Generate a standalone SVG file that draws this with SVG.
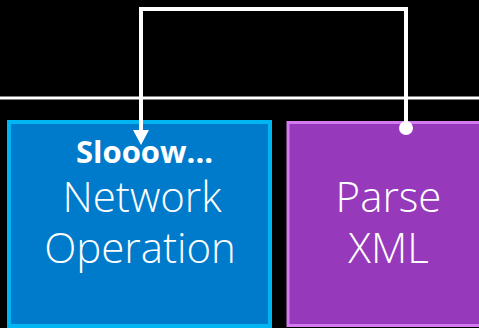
<svg xmlns="http://www.w3.org/2000/svg" width="479" height="328" viewBox="0 0 479 328">
<style>
.t{font-family:"Open Sans","Liberation Sans",sans-serif;fill:#fff;text-anchor:middle;font-size:42px;font-weight:300}
.b{font-weight:700;font-size:31px}
.c{fill:none;stroke:#fff;stroke-width:4}
</style>
<rect width="479" height="328" fill="#000"/>
<line x1="0" y1="98" x2="479" y2="98" stroke="#fff" stroke-width="3"/>
<g id="network">
<rect x="9" y="122" width="261" height="204" fill="#007BCB" stroke="#00B6F2" stroke-width="4"/>
<text class="t b" x="144.5" y="163">Slooow...</text>
<text class="t" x="142" y="212">Network</text>
<text class="t" x="140" y="263">Operation</text>
</g>
<g id="parse">
<rect x="288" y="122.5" width="195" height="203" fill="#9639BA" stroke="#D47BF2" stroke-width="3"/>
<text class="t" x="388.5" y="212">Parse</text>
<text class="t" x="388.5" y="263">XML</text>
</g>
<g id="connectors">
<polyline class="c" points="406,128 406,9 141,9 141,132"/>
<path d="M133,130 L149,130 L141,145 Z" fill="#fff"/>
<circle cx="406" cy="128" r="7" fill="#fff"/>
</g>
</svg>
